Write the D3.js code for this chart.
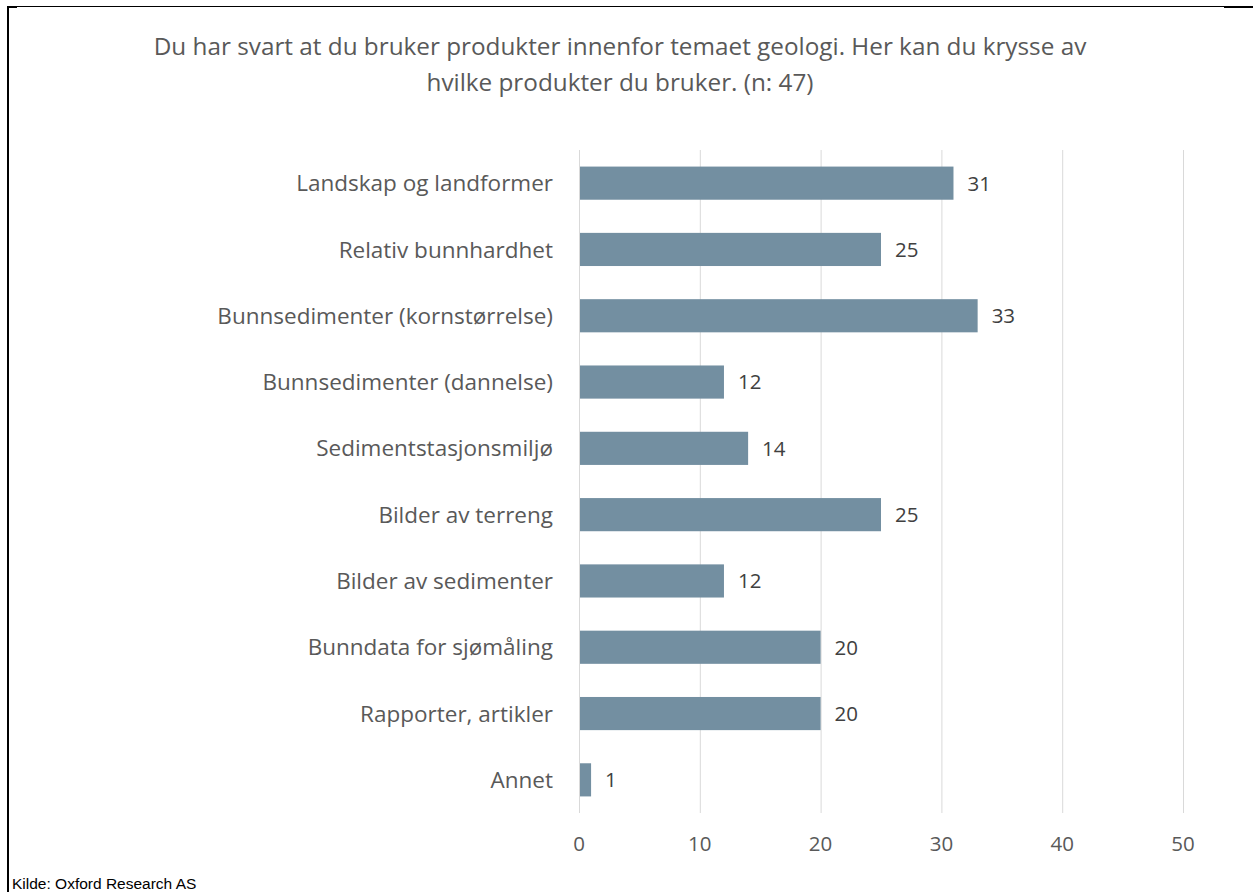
<!DOCTYPE html>
<html>
<head>
<meta charset="utf-8">
<script src="https://cdn.jsdelivr.net/npm/d3@7"></script>
<style>
  body { margin: 0; background: #fff; }
  svg { display: block; }
</style>
</head>
<body>
<div id="chart"></div>
<script>
// Chart data
const categories = [
  "Landskap og landformer",
  "Relativ bunnhardhet",
  "Bunnsedimenter (kornstørrelse)",
  "Bunnsedimenter (dannelse)",
  "Sedimentstasjonsmiljø",
  "Bilder av terreng",
  "Bilder av sedimenter",
  "Bunndata for sjømåling",
  "Rapporter, artikler",
  "Annet"
];
const values = [31, 25, 33, 12, 14, 25, 12, 20, 20, 1];
const xTicks = [0, 10, 20, 30, 40, 50];
const titleLines = [
  "Du har svart at du bruker produkter innenfor temaet geologi. Her kan du krysse av",
  "hvilke produkter du bruker. (n: 47)"
];
const source = "Kilde: Oxford Research AS";

const width = 1253, height = 892;
const margin = { top: 150, left: 579, right: 70, bottom: 79 };
const textColor = "#595959";
const barColor = "#738fa1";

const svg = d3.select("#chart")
  .append("svg")
  .attr("width", width)
  .attr("height", height);

// frame lines (left + top) like the pasted chart box
svg.append("line").attr("x1", 8).attr("x2", 8).attr("y1", 6).attr("y2", height)
  .attr("stroke", "#000").attr("stroke-width", 2);
svg.append("line").attr("x1", 7).attr("x2", 1224).attr("y1", 6.5).attr("y2", 6.5)
  .attr("stroke", "#000").attr("stroke-width", 1);
svg.append("line").attr("x1", 7).attr("x2", 17).attr("y1", 7).attr("y2", 7)
  .attr("stroke", "#000").attr("stroke-width", 2);
svg.append("line").attr("x1", 1224).attr("x2", width).attr("y1", 7).attr("y2", 7)
  .attr("stroke", "#000").attr("stroke-width", 2);

const x = d3.scaleLinear()
  .domain([0, 50])
  .range([margin.left, 1183]);

const y = d3.scaleBand()
  .domain(categories)
  .range([margin.top, height - margin.bottom])
  .paddingInner(0.5)
  .paddingOuter(0.25);

// gridlines
svg.append("g")
  .selectAll("line")
  .data(xTicks)
  .join("line")
  .attr("x1", d => x(d) + 0.5)
  .attr("x2", d => x(d) + 0.5)
  .attr("y1", margin.top)
  .attr("y2", height - margin.bottom)
  .attr("stroke", "#d9d9d9")
  .attr("stroke-width", 1);

// bars
svg.append("g")
  .selectAll("rect")
  .data(values)
  .join("rect")
  .attr("x", x(0) + 1)
  .attr("y", (d, i) => y(categories[i]))
  .attr("width", d => x(d) - x(0) - 1)
  .attr("height", y.bandwidth())
  .attr("fill", barColor);

// value labels
svg.append("g")
  .selectAll("text")
  .data(values)
  .join("text")
  .attr("x", d => x(d) + 14)
  .attr("y", (d, i) => y(categories[i]) + y.bandwidth() / 2)
  .attr("dy", "0.36em")
  .attr("font-family", "'Open Sans', sans-serif")
  .attr("font-size", 20.5)
  .attr("fill", "#404040")
  .text(d => d);

// category labels
svg.append("g")
  .selectAll("text")
  .data(categories)
  .join("text")
  .attr("x", 553)
  .attr("y", d => y(d) + y.bandwidth() / 2)
  .attr("dy", "0.36em")
  .attr("text-anchor", "end")
  .attr("font-family", "'Open Sans', sans-serif")
  .attr("font-size", 22.5)
  .attr("fill", textColor)
  .text(d => d);

// x axis tick labels
svg.append("g")
  .selectAll("text")
  .data(xTicks)
  .join("text")
  .attr("x", d => x(d))
  .attr("y", 851)
  .attr("text-anchor", "middle")
  .attr("font-family", "'Open Sans', sans-serif")
  .attr("font-size", 20.5)
  .attr("fill", textColor)
  .text(d => d);

// title
svg.append("g")
  .selectAll("text")
  .data(titleLines)
  .join("text")
  .attr("x", 620)
  .attr("y", (d, i) => 55 + i * 36)
  .attr("text-anchor", "middle")
  .attr("font-family", "'Open Sans', sans-serif")
  .attr("font-size", 24.3)
  .attr("fill", textColor)
  .text(d => d);

// source
svg.append("text")
  .attr("x", 12)
  .attr("y", 889)
  .attr("font-family", "'Liberation Sans Narrow', 'Liberation Sans', Arial, sans-serif")
  .attr("font-size", 15.5)
  .attr("fill", "#000")
  .text(source);
</script>
</body>
</html>
